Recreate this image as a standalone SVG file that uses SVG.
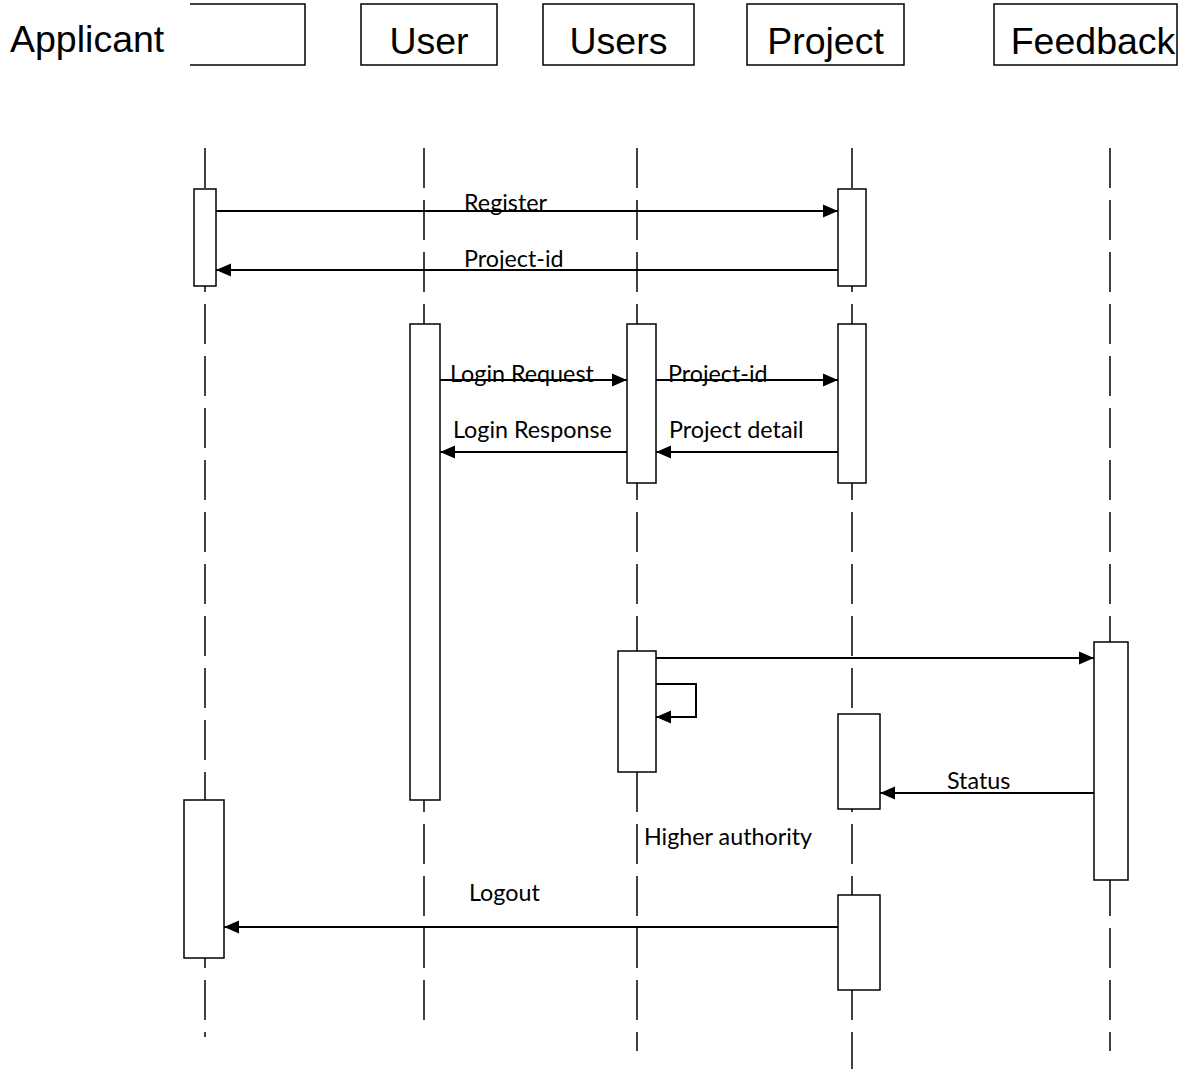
<svg xmlns="http://www.w3.org/2000/svg" width="1194" height="1071" viewBox="0 0 1194 1071">
<defs>
<style>
.hdr{fill:none;stroke:#000;stroke-width:1.5}
.ht{font-family:"Liberation Sans",Arial,sans-serif;font-size:37.5px;fill:#000}
.life{stroke:#000;stroke-width:1.5;stroke-dasharray:40 12;fill:none}
.act{fill:#fff;stroke:#000;stroke-width:1.5}
.msg{stroke:#000;stroke-width:2;fill:none}
.lb{font-family:Lato,Carlito,"Liberation Sans",sans-serif;font-size:23.3px;fill:#000}
</style>
<marker id="ah" markerWidth="18" markerHeight="16" refX="15" refY="8" orient="auto" markerUnits="userSpaceOnUse">
<path d="M0,1.5 L15,8 L0,14.5 Z" fill="#000"/>
</marker>
</defs>
<rect width="1194" height="1071" fill="#fff"/>

<g id="header-applicant">
<text class="ht" x="10" y="52">Applicant</text>
<path class="hdr" d="M190,4 H305 V65 H190"/>
</g>
<g id="header-user">
<rect class="hdr" x="361" y="4" width="136" height="61"/>
<text class="ht" x="429" y="54" text-anchor="middle">User</text>
</g>
<g id="header-users">
<rect class="hdr" x="543" y="4" width="151" height="61"/>
<text class="ht" x="618.5" y="54" text-anchor="middle">Users</text>
</g>
<g id="header-project">
<rect class="hdr" x="747" y="4" width="157" height="61"/>
<text class="ht" x="825.5" y="54" text-anchor="middle">Project</text>
</g>
<g id="header-feedback">
<rect class="hdr" x="994" y="4" width="183" height="61"/>
<text class="ht" x="1093" y="54" text-anchor="middle">Feedback</text>
</g>

<g id="lifelines">
<line class="life" x1="205" y1="148" x2="205" y2="1037"/>
<line class="life" x1="424" y1="148" x2="424" y2="1024"/>
<line class="life" x1="637" y1="148" x2="637" y2="1051"/>
<line class="life" x1="852" y1="148" x2="852" y2="1069"/>
<line class="life" x1="1110" y1="148" x2="1110" y2="1051"/>
</g>

<g id="activations">
<rect class="act" x="194" y="189" width="22" height="97"/>
<rect class="act" x="838" y="189" width="28" height="97"/>
<rect class="act" x="410" y="324" width="30" height="476"/>
<rect class="act" x="627" y="324" width="29" height="159"/>
<rect class="act" x="838" y="324" width="28" height="159"/>
<rect class="act" x="1094" y="642" width="34" height="238"/>
<rect class="act" x="618" y="651" width="38" height="121"/>
<rect class="act" x="838" y="714" width="42" height="95"/>
<rect class="act" x="184" y="800" width="40" height="158"/>
<rect class="act" x="838" y="895" width="42" height="95"/>
</g>

<g id="connectors">
<line class="msg" x1="216" y1="211" x2="838" y2="211" marker-end="url(#ah)"/>
<line class="msg" x1="838" y1="270" x2="216" y2="270" marker-end="url(#ah)"/>
<line class="msg" x1="440" y1="380" x2="627" y2="380" marker-end="url(#ah)"/>
<line class="msg" x1="656" y1="380" x2="838" y2="380" marker-end="url(#ah)"/>
<line class="msg" x1="627" y1="452" x2="440" y2="452" marker-end="url(#ah)"/>
<line class="msg" x1="838" y1="452" x2="656" y2="452" marker-end="url(#ah)"/>
<line class="msg" x1="656" y1="658" x2="1094" y2="658" marker-end="url(#ah)"/>
<path class="msg" d="M656,684 H696 V717 H656" marker-end="url(#ah)"/>
<line class="msg" x1="1094" y1="793" x2="880" y2="793" marker-end="url(#ah)"/>
<line class="msg" x1="838" y1="927" x2="224" y2="927" marker-end="url(#ah)"/>
</g>

<g id="labels">
<text class="lb" x="464" y="211">Register</text>
<text class="lb" x="464" y="267">Project-id</text>
<text class="lb" x="450" y="382">Login Request</text>
<text class="lb" x="668" y="382">Project-id</text>
<text class="lb" x="453" y="438">Login Response</text>
<text class="lb" x="669" y="438">Project detail</text>
<text class="lb" x="947" y="789">Status</text>
<text class="lb" x="644" y="845">Higher authority</text>
<text class="lb" x="469" y="901">Logout</text>
</g>
</svg>
